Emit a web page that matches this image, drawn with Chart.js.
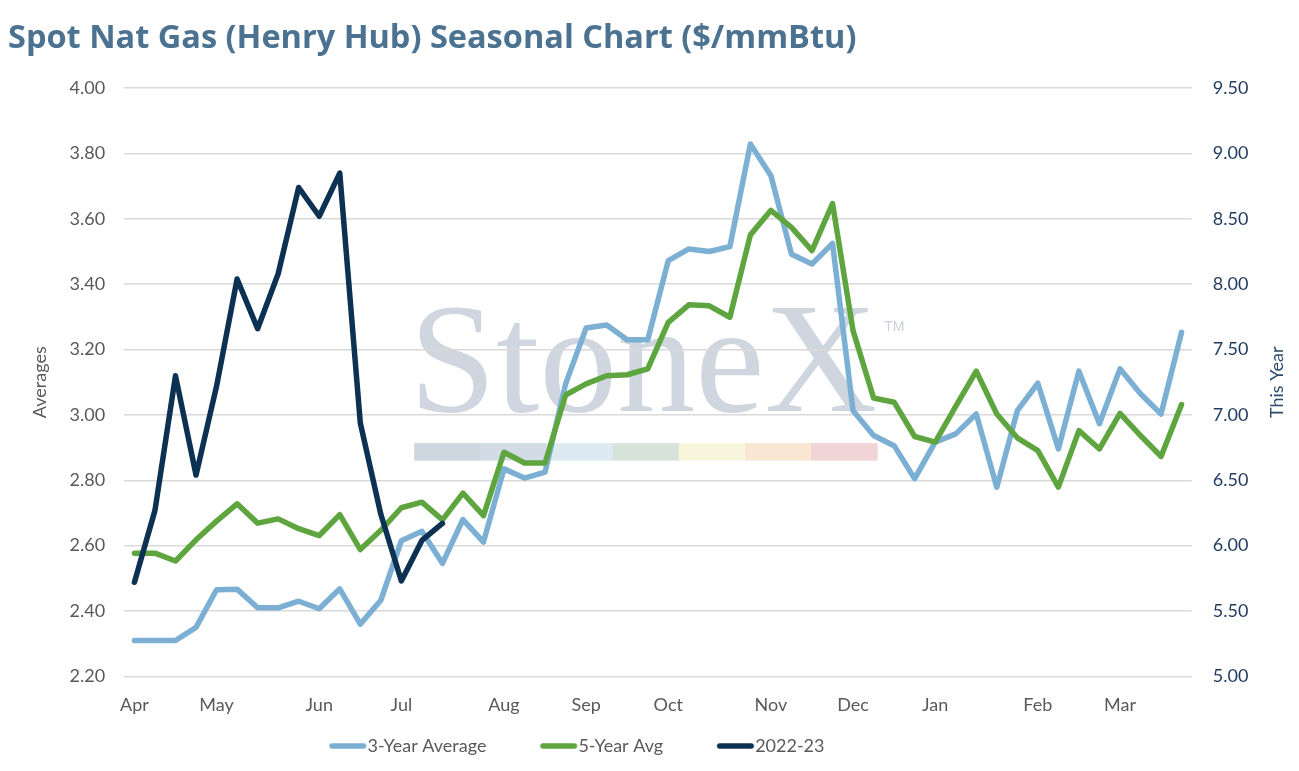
<!DOCTYPE html>
<html>
<head>
<meta charset="utf-8">
<script src="https://cdn.jsdelivr.net/npm/chart.js@4.4.1/dist/chart.umd.min.js"></script>
<style>
html,body{margin:0;padding:0;background:#fff;}
#wrap{width:1299px;height:771px;position:relative;}
</style>
</head>
<body>
<div id="wrap"><canvas id="c"></canvas></div>
<script>
// ---- data ----
const weekLabels = [
  'Apr','','','','May','','','','','Jun','','','','Jul','','','','',
  'Aug','','','','Sep','','','','Oct','','','','','Nov','','','','Dec',
  '','','','Jan','','','','','Feb','','','','Mar','','',''
];
const threeYearAvg = [
  2.31,2.31,2.31,2.35,2.465,2.467,2.41,2.41,2.43,2.407,2.468,2.36,2.433,
  2.615,2.644,2.546,2.68,2.611,2.835,2.807,2.825,3.095,3.266,3.275,3.23,3.23,
  3.472,3.508,3.50,3.515,3.829,3.732,3.492,3.462,3.525,3.013,2.937,2.906,2.805,
  2.917,2.942,3.003,2.779,3.013,3.097,2.896,3.134,2.973,3.141,3.065,3.003,3.253
];
const fiveYearAvg = [
  2.577,2.577,2.553,2.618,2.675,2.728,2.669,2.682,2.652,2.631,2.695,2.588,2.647,
  2.716,2.733,2.679,2.761,2.692,2.886,2.853,2.853,3.061,3.095,3.12,3.123,3.141,
  3.283,3.337,3.334,3.299,3.551,3.626,3.574,3.503,3.647,3.258,3.052,3.039,2.934,
  2.917,3.026,3.134,3.003,2.930,2.891,2.779,2.952,2.896,3.005,2.937,2.873,3.032
];
const thisYear = [
  5.72,6.27,7.30,6.54,7.22,8.04,7.66,8.08,8.74,8.52,8.85,6.94,6.24,5.73,6.04,6.17
];
const seriesNames = ['3-Year Average','5-Year Avg','2022-23'];
const seriesColors = ['#7bafd4','#5ea540','#0d3152'];
const leftAxisRange = [2.2, 4.0, 0.2];
const rightAxisRange = [5.0, 9.5, 0.5];
const watermarkBar = ['#cdd5de','#d3dce6','#deeaf3','#d5e3da','#f7f6dc','#f9e6d3','#f1d4d6'];

const FONT = 'Lato';
const GREY = '#595959';

// legend sample image (line drawn right-aligned inside the item box)
function legendLine(color){
  const c = document.createElement('canvas');
  c.width = 98; c.height = 10;
  const g = c.getContext('2d');
  g.strokeStyle = color; g.lineWidth = 5.5; g.lineCap = 'round';
  g.beginPath(); g.moveTo(62.5, 5); g.lineTo(94, 5); g.stroke();
  return c;
}
const legendImgs = seriesColors.map(legendLine);

const watermark = {
  id: 'watermark',
  beforeDraw(chart){
    const {ctx, chartArea: a} = chart;
    ctx.save();
    ctx.fillStyle = '#cfd6df';
    ctx.font = '156px "Liberation Serif", "Times New Roman", serif';
    ctx.textBaseline = 'alphabetic';
    ctx.textAlign = 'left';
    ctx.fillText('StoneX', a.left + 285, a.top + 323);
    ctx.fillStyle = '#c9d0d9';
    ctx.font = '14px "Liberation Sans", Arial, sans-serif';
    ctx.fillText('TM', a.left + 760, a.top + 243);
    const bw = 463 / watermarkBar.length;
    watermarkBar.forEach((col, i) => {
      ctx.fillStyle = col;
      ctx.fillRect(a.left + 290 + i * bw, a.top + 355, bw + 0.5, 17.5);
    });
    ctx.restore();
  }
};

const extras = {
  id: 'extras',
  afterLayout(chart){
    if (chart.legend) { chart.legend.left -= 102; chart.legend.right -= 102; }
  },
  afterDraw(chart){
    const s = chart.scales.y1, a = chart.chartArea, ctx = chart.ctx;
    ctx.save();
    ctx.translate(s.right - 21.8, (a.top + a.bottom) / 2);
    ctx.rotate(-Math.PI / 2);
    ctx.fillStyle = '#2c4a6b';
    ctx.font = '18px ' + FONT;
    ctx.textAlign = 'center';
    ctx.textBaseline = 'middle';
    ctx.fillText('This Year', 0, 0);
    ctx.restore();
  }
};

const mk = (i, data, axis, order) => ({
  label: seriesNames[i],
  data: data,
  yAxisID: axis,
  borderColor: seriesColors[i],
  backgroundColor: seriesColors[i],
  borderWidth: 5.5,
  pointRadius: 0,
  pointHoverRadius: 0,
  tension: 0,
  borderJoinStyle: 'round',
  borderCapStyle: 'round',
  order: order
});

new Chart(document.getElementById('c'), {
  type: 'line',
  data: {
    labels: weekLabels,
    datasets: [
      mk(0, threeYearAvg, 'y', 2),
      mk(1, fiveYearAvg, 'y', 1),
      mk(2, thisYear, 'y1', 0)
    ]
  },
  plugins: [watermark, extras],
  options: {
    responsive: true,
    maintainAspectRatio: false,
    animation: false,
    events: [],
    layout: { padding: { left: 8, right: 0, top: 0, bottom: 6 } },
    plugins: {
      title: {
        display: true,
        text: 'Spot Nat Gas (Henry Hub) Seasonal Chart ($/mmBtu)',
        align: 'start',
        color: '#4b7290',
        font: { family: 'Open Sans', size: 32.5, weight: 'bold', lineHeight: 1.05 },
        padding: { top: 22, bottom: 32 }
      },
      legend: {
        position: 'bottom',
        labels: {
          usePointStyle: true,
          pointStyleWidth: 80,
          padding: 3,
          color: GREY,
          font: { family: FONT, size: 18 },
          sort: (a, b) => a.datasetIndex - b.datasetIndex,
          generateLabels(chart){
            const items = Chart.defaults.plugins.legend.labels.generateLabels(chart);
            items.forEach(it => { it.pointStyle = legendImgs[it.datasetIndex]; });
            return items;
          }
        }
      },
      tooltip: { enabled: false }
    },
    scales: {
      x: {
        type: 'category',
        offset: true,
        grid: { display: false, drawTicks: false },
        border: { display: false },
        ticks: {
          autoSkip: false, maxRotation: 0, minRotation: 0,
          padding: 18, color: GREY,
          font: { family: FONT, size: 18 }
        }
      },
      y: {
        position: 'left',
        min: leftAxisRange[0], max: leftAxisRange[1],
        grid: { color: '#d9d9d9', lineWidth: 1.5, drawTicks: false },
        border: { display: false },
        ticks: {
          stepSize: leftAxisRange[2],
          padding: 19, color: GREY,
          font: { family: FONT, size: 18 },
          callback: v => Number(v).toFixed(2)
        },
        title: {
          display: true, text: 'Averages', color: GREY,
          font: { family: FONT, size: 18 },
          padding: { top: 21, bottom: 0 }
        }
      },
      y1: {
        position: 'right',
        min: rightAxisRange[0], max: rightAxisRange[1],
        grid: { display: false, drawTicks: false },
        border: { display: false },
        ticks: {
          stepSize: rightAxisRange[2],
          padding: 21, color: '#1f3a5f',
          font: { family: FONT, size: 18 },
          callback: v => Number(v).toFixed(2)
        },
        title: {
          display: true, text: 'This Year', color: 'rgba(0,0,0,0)',
          font: { family: FONT, size: 18 },
          padding: { top: 8, bottom: 0 }
        }
      }
    }
  }
});
</script>
</body>
</html>
